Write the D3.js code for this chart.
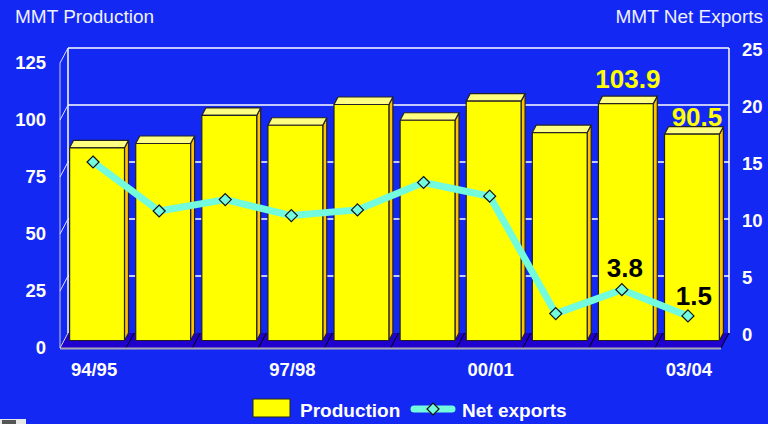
<!DOCTYPE html>
<meta charset="utf-8">
<style>
body {
    margin: 0;
    background: #1428f4;
}
svg {
    display: block;
    font-family: "Liberation Sans", Arial, sans-serif;
}
.title {
    fill: #eef0ff;
    font-size: 19px;
}
.tick text, .xlab, .legend text {
    fill: #fff;
    font-weight: bold;
    font-size: 18.5px;
}
.datalab {
    font-weight: bold;
    font-size: 26px;
}
</style>
<svg width="768" height="424"></svg>
<script src="https://d3js.org/d3.v7.min.js"></script>
<script>
// data
var categories = ["94/95","95/96","96/97","97/98","98/99","99/00","00/01","01/02","02/03","03/04"];
var production = [84.5, 86.4, 98.7, 94.4, 103.5, 96.6, 105.0, 91.2, 103.9, 90.5];
var netExports = [15.0, 10.7, 11.7, 10.3, 10.8, 13.2, 12.0, 1.7, 3.8, 1.5];
var leftTicks = [0, 25, 50, 75, 100, 125];
var rightTicks = [0, 5, 10, 15, 20, 25];
var shownCats = ["94/95", "97/98", "00/01", "03/04"];
var labelledIdx = [8, 9];

// layout
var wall = {x0: 68, x1: 729, y0: 48, y1: 333};
var depth = {dx: 8, dy: 15};
var prodNudge = [[2, -16], [5, -8]];
var netNudge = [[3, -13], [6, -11]];
var lineColor = "#72fbdc";

var svg = d3.select("svg");

var yL = d3.scaleLinear().domain([0, 125]).range([wall.y1, wall.y0]);
var yR = d3.scaleLinear().domain([0, 25]).range([wall.y1, wall.y0]);
var x = d3.scaleBand().domain(categories).range([wall.x0, wall.x1])
    .paddingInner(0.17).paddingOuter(0.085);
var step = x.step(), bw = x.bandwidth();
var bandStart = function(i) { return wall.x0 + step * i; };

// titles
svg.append("text").attr("class", "title").attr("x", 15).attr("y", 23).text("MMT Production");
svg.append("text").attr("class", "title").attr("x", 763).attr("y", 23)
    .attr("text-anchor", "end").text("MMT Net Exports");

// floor
svg.append("polygon")
    .attr("points", [[wall.x0 - depth.dx, wall.y1 + depth.dy], [wall.x0, wall.y1],
                     [wall.x1, wall.y1], [wall.x1 - depth.dx, wall.y1 + depth.dy]].join(" "))
    .attr("fill", "#2000cc");
svg.append("g").selectAll("line")
    .data(d3.range(categories.length + 1))
    .enter().append("line")
    .attr("x1", function(i) { return bandStart(i); })
    .attr("y1", wall.y1)
    .attr("x2", function(i) { return bandStart(i) - depth.dx; })
    .attr("y2", wall.y1 + depth.dy)
    .attr("stroke", "#000").attr("stroke-width", 1);
svg.append("line")
    .attr("x1", wall.x0 - depth.dx).attr("x2", wall.x1 - depth.dx)
    .attr("y1", wall.y1 + depth.dy + 0.5).attr("y2", wall.y1 + depth.dy + 0.5)
    .attr("stroke", "#a8a8b8").attr("stroke-width", 2);

// back wall gridlines + edges
svg.append("g").selectAll("line")
    .data(leftTicks.filter(function(d) { return d > 0; }))
    .enter().append("line")
    .attr("x1", wall.x0).attr("x2", wall.x1)
    .attr("y1", function(d) { return yL(d); })
    .attr("y2", function(d) { return yL(d); })
    .attr("stroke", "#fff").attr("stroke-width", 1.5);
svg.append("line").attr("x1", wall.x0).attr("x2", wall.x0)
    .attr("y1", wall.y0).attr("y2", wall.y1).attr("stroke", "#fff").attr("stroke-width", 1.5);
svg.append("line").attr("x1", wall.x1).attr("x2", wall.x1)
    .attr("y1", wall.y0).attr("y2", wall.y1).attr("stroke", "#fff").attr("stroke-width", 1.5);
// left side wall
svg.append("line").attr("x1", wall.x0 - depth.dx).attr("x2", wall.x0 - depth.dx)
    .attr("y1", wall.y0 + depth.dy).attr("y2", wall.y1 + depth.dy)
    .attr("stroke", "#c8c8e0").attr("stroke-width", 1);
svg.append("g").selectAll("line")
    .data(leftTicks)
    .enter().append("line")
    .attr("x1", wall.x0 - depth.dx).attr("x2", wall.x0)
    .attr("y1", function(d) { return yL(d) + depth.dy; })
    .attr("y2", function(d) { return yL(d); })
    .attr("stroke", "#e0e0ff").attr("stroke-width", 1);

// axes labels
svg.append("g").selectAll("text")
    .data(leftTicks).enter().append("text")
    .attr("class", "tick").append("tspan")
    .attr("x", 46).attr("y", function(d) { return yL(d) + depth.dy - 1; })
    .attr("dy", "0.36em").attr("text-anchor", "end")
    .style("fill", "#fff").style("font-weight", "bold").style("font-size", "18.5px")
    .text(function(d) { return d; });
svg.append("g").selectAll("text")
    .data(rightTicks).enter().append("text")
    .attr("x", 742).attr("y", function(d) { return yR(d) + 1; })
    .attr("dy", "0.36em")
    .style("fill", "#fff").style("font-weight", "bold").style("font-size", "18.5px")
    .text(function(d) { return d; });
svg.append("g").selectAll("text")
    .data(shownCats).enter().append("text")
    .attr("class", "xlab")
    .attr("x", function(d) { return x(d) + bw / 2 - depth.dx + 1; })
    .attr("y", 376)
    .attr("text-anchor", "middle")
    .text(function(d) { return d; });

// bars: front face sits halfway into the depth
var bdx = depth.dx / 2, bdy = depth.dy / 2;
var bars = svg.append("g").selectAll("g")
    .data(production).enter().append("g")
    .attr("stroke", "#222").attr("stroke-width", 1.2).attr("stroke-linejoin", "round");
function face(i, v) {
    return {x0: x(categories[i]) - bdx, x1: x(categories[i]) - bdx + bw,
            yt: yL(v) + bdy, yb: yL(0) + bdy};
}
bars.append("polygon")
    .attr("fill", "#ffc400")
    .attr("points", function(v, i) {
        var f = face(i, v);
        return [[f.x1, f.yt], [f.x1 + bdx, f.yt - bdy], [f.x1 + bdx, f.yb - bdy], [f.x1, f.yb]].join(" ");
    });
bars.append("polygon")
    .attr("fill", "#ffff80")
    .attr("points", function(v, i) {
        var f = face(i, v);
        return [[f.x0, f.yt], [f.x0 + bdx, f.yt - bdy], [f.x1 + bdx, f.yt - bdy], [f.x1, f.yt]].join(" ");
    });
bars.append("rect")
    .attr("fill", "#ffff00")
    .attr("x", function(v, i) { return face(i, v).x0; })
    .attr("y", function(v, i) { return face(i, v).yt; })
    .attr("width", bw)
    .attr("height", function(v, i) { var f = face(i, v); return f.yb - f.yt; });

// net exports line
var px = function(i) { return x(categories[i]) + bw / 2 - depth.dx; };
var line = d3.line()
    .x(function(d, i) { return px(i); })
    .y(function(d) { return yR(d); });
svg.append("path")
    .datum(netExports)
    .attr("d", line)
    .attr("fill", "none")
    .attr("stroke", lineColor)
    .attr("stroke-width", 7)
    .attr("stroke-linejoin", "round");
var diamond = "M0,-6L6,0L0,6L-6,0Z";
svg.append("g").selectAll("path")
    .data(netExports).enter().append("path")
    .attr("d", diamond)
    .attr("transform", function(d, i) { return "translate(" + px(i) + "," + yR(d) + ")"; })
    .attr("fill", lineColor).attr("stroke", "#111").attr("stroke-width", 1.2);

// data labels
labelledIdx.forEach(function(i, k) {
    var f = face(i, production[i]);
    svg.append("text").attr("class", "datalab")
        .attr("x", (f.x0 + f.x1) / 2 + prodNudge[k][0])
        .attr("y", f.yt + prodNudge[k][1])
        .attr("text-anchor", "middle")
        .attr("fill", "#ffff00")
        .text(production[i].toFixed(1));
    svg.append("text").attr("class", "datalab")
        .attr("x", px(i) + netNudge[k][0])
        .attr("y", yR(netExports[i]) + netNudge[k][1])
        .attr("text-anchor", "middle")
        .attr("fill", "#000")
        .text(netExports[i].toFixed(1));
});

// legend
var lg = svg.append("g").attr("class", "legend");
lg.append("rect").attr("x", 253).attr("y", 399).attr("width", 37).attr("height", 18)
    .attr("fill", "#ffff00").attr("stroke", "#222").attr("stroke-width", 1);
lg.append("text").attr("x", 300).attr("y", 417).style("font-size", "19px").text("Production");
lg.append("line").attr("x1", 414).attr("x2", 452).attr("y1", 409).attr("y2", 409)
    .attr("stroke", lineColor).attr("stroke-width", 7).attr("stroke-linecap", "round");
lg.append("path").attr("d", diamond).attr("transform", "translate(433,409)")
    .attr("fill", lineColor).attr("stroke", "#111").attr("stroke-width", 1.2);
lg.append("text").attr("x", 462).attr("y", 417).style("font-size", "19px").text("Net exports");

// little logo scrap in the corner
svg.append("rect").attr("x", 0).attr("y", 419).attr("width", 26).attr("height", 5).attr("fill", "#e8e8e8");
svg.append("rect").attr("x", 2).attr("y", 420).attr("width", 14).attr("height", 4).attr("fill", "#555");
</script>
